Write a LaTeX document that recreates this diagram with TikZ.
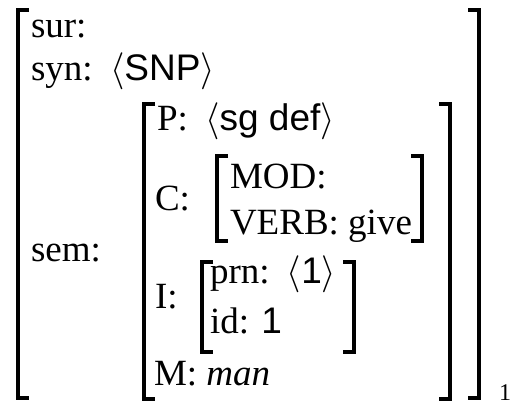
\documentclass[tikz,border=0pt]{standalone}
\usepackage{fix-cm}
\usepackage{fontspec}
\setmainfont{Liberation Serif}
\setsansfont{Liberation Sans}
% angle-bracketed list value, set off from its attribute
\newcommand{\avlist}[1]{\ \hspace{0.22em}$\langle$\textsf{#1}$\rangle$}
\begin{document}
\begin{tikzpicture}[x=1pt, y=-1pt,
  every node/.style={inner sep=0pt, outer sep=0pt, anchor=base west,
    font=\fontsize{37}{44}\selectfont},
  brk/.style={line width=3.4pt, line cap=butt, line join=miter}]
\useasboundingbox (0,0) rectangle (512,405);
% attribute labels and values
\node (sur)  at (31,37)  {sur:};
\node (syn)  at (31,80)  {syn:\avlist{SNP}};
\node (sem)  at (31,261) {sem:};
\node (P)    at (157,130) {P:\avlist{sg def}};
\node (C)    at (155,210) {C:};
\node (mod)  at (230,188) {MOD:};
\node (verb) at (230,234) {VERB: give};
\node (I)    at (155,308) {I:};
\node (prn)  at (210,283) {prn:\avlist{1}};
\node (id)   at (210,333) {id: \textsf{1}};
\node (M)    at (154,385) {M: \textit{man}};
\node[font=\fontsize{24}{28}\selectfont] (sub) at (499,400) {1};
% square brackets: outer, sem, C and I matrices
\draw[brk] (29,10) -- (18,10) -- (18,398) -- (29,398);
\draw[brk] (468,10) -- (479,10) -- (479,398) -- (468,398);
\draw[brk] (155,104) -- (144,104) -- (144,399) -- (155,399);
\draw[brk] (439,104) -- (450,104) -- (450,399) -- (439,399);
\draw[brk] (228,156) -- (217,156) -- (217,241) -- (228,241);
\draw[brk] (411,156) -- (422,156) -- (422,241) -- (411,241);
\draw[brk] (213,262) -- (202,262) -- (202,352) -- (213,352);
\draw[brk] (343,262) -- (354,262) -- (354,352) -- (343,352);
\end{tikzpicture}
\end{document}
